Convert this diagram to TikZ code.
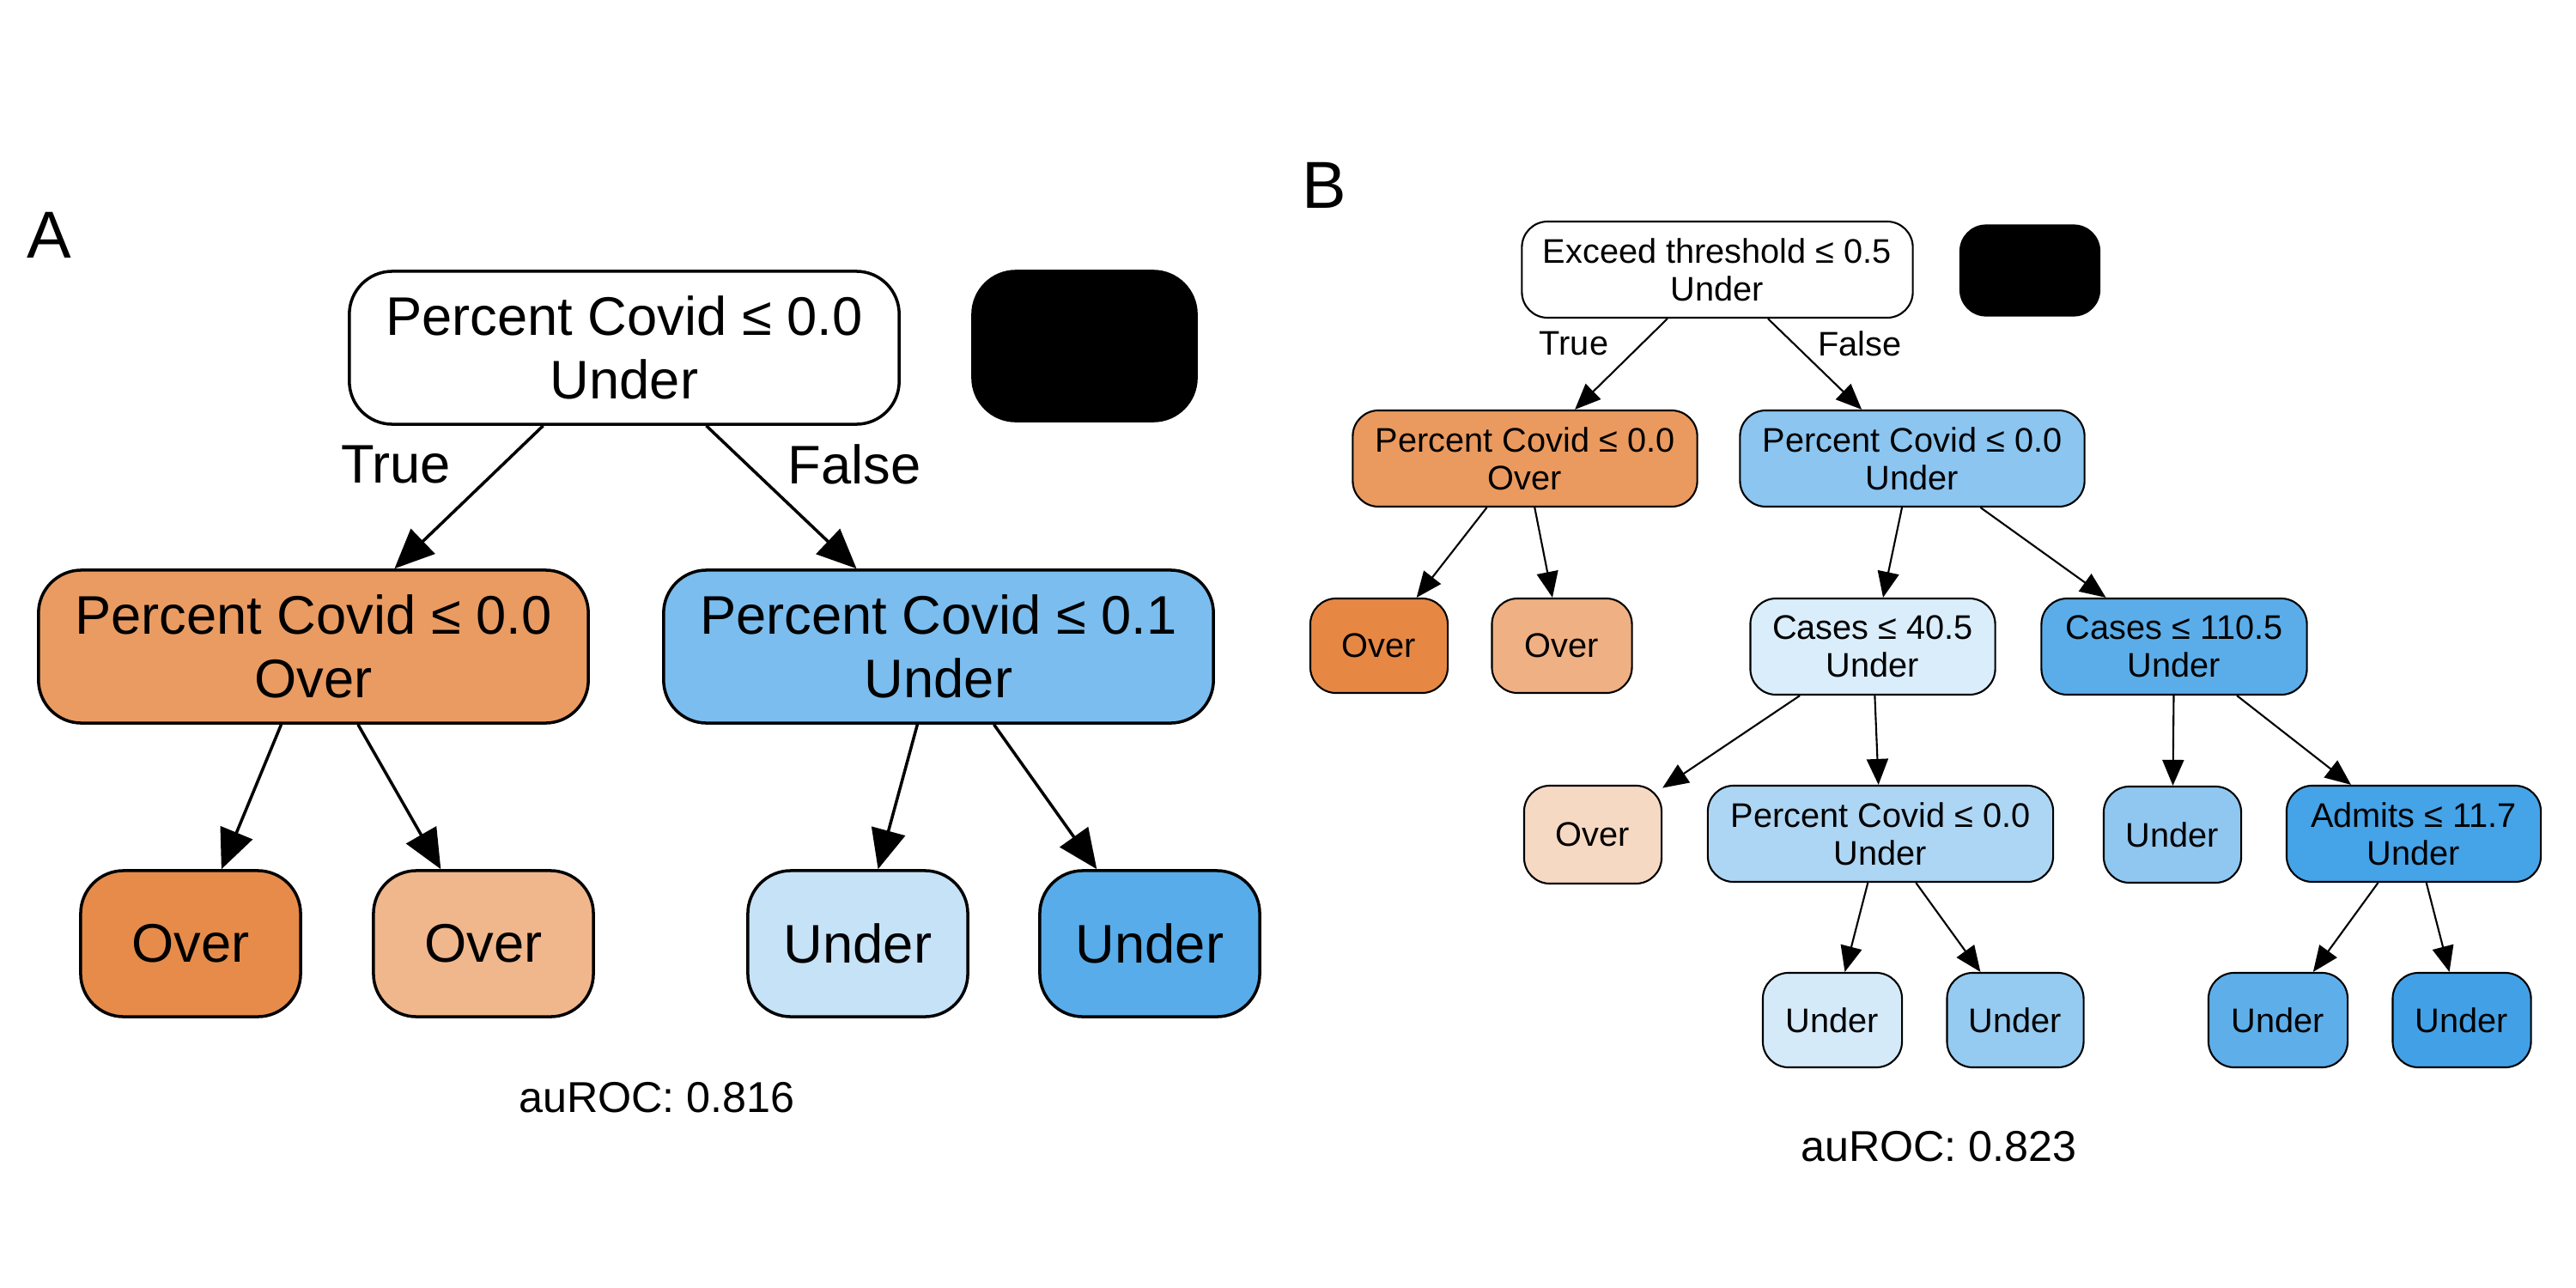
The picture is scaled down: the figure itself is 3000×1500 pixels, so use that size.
\documentclass[tikz,border=0pt]{standalone}
\usepackage{fontspec}
\setmainfont{Liberation Sans}
\usetikzlibrary{arrows.meta}
\definecolor{orA}{HTML}{EA9B62}
\definecolor{blA}{HTML}{7BBDEE}
\definecolor{orAa}{HTML}{E68B4A}
\definecolor{orAb}{HTML}{F0B68C}
\definecolor{blAa}{HTML}{C5E2F7}
\definecolor{blAb}{HTML}{58ACE9}
\definecolor{orB}{HTML}{EA9A5F}
\definecolor{blB}{HTML}{8BC5F0}
\definecolor{orBa}{HTML}{E68844}
\definecolor{orBb}{HTML}{EFB083}
\definecolor{orBc}{HTML}{F6D9C3}
\definecolor{blBa}{HTML}{DAEDFA}
\definecolor{blBb}{HTML}{5BADE9}
\definecolor{blBc}{HTML}{ADD6F4}
\definecolor{blBd}{HTML}{8FC7F0}
\definecolor{blBe}{HTML}{45A3E7}
\definecolor{blBf}{HTML}{D4EAF9}
\definecolor{blBg}{HTML}{95CAF1}
\definecolor{blBh}{HTML}{5EAEE9}
\definecolor{blBi}{HTML}{42A1E6}

\begin{document}
\begin{tikzpicture}[x=0.01cm, y=-0.01cm,
      box/.style={draw, rounded corners=5mm, line width=1pt, align=center,
                  inner sep=0pt, minimum height=1.78cm, minimum width=6.4cm,
                  font=\fontsize{18}{21}\selectfont},
      leaf/.style={box, minimum width=2.56cm, minimum height=1.70cm},
      sbox/.style={draw, rounded corners=3mm, line width=0.6pt, align=center,
                   inner sep=0pt, minimum height=1.12cm,
                   font=\fontsize{11.3}{12.6}\selectfont},
      sleaf/.style={sbox, minimum width=1.6cm, minimum height=1.1cm},
      arr/.style={-{Triangle[length=4.6mm, width=4mm]}, line width=1pt},
      sarr/.style={-{Triangle[length=3mm, width=2.5mm]}, line width=0.6pt},
      tag/.style={font=\fontsize{22}{26}\selectfont},
      lbl/.style={font=\fontsize{18}{21}\selectfont},
      slbl/.style={font=\fontsize{11.3}{13}\selectfont},
      auc/.style={font=\fontsize{14.3}{17}\selectfont}]
    \useasboundingbox (0,0) rectangle (3000,1500);
    % panel A
    \node[tag] (tagA) at (57,274) {A};
    \node[box] (rootA) at (727,405) {Percent Covid ≤ 0.0\\Under};
    \node[box, fill=black, minimum width=2.6cm, minimum height=1.74cm] (keyA) at (1263,403) {};
    \node[box, fill=orA] (overA) at (365,753) {Percent Covid ≤ 0.0\\Over};
    \node[box, fill=blA] (underA) at (1093,753) {Percent Covid ≤ 0.1\\Under};
    \node[leaf, fill=orAa] (overA1) at (222,1099) {Over};
    \node[leaf, fill=orAb] (overA2) at (563,1099) {Over};
    \node[leaf, fill=blAa] (underA1) at (999,1099) {Under};
    \node[leaf, fill=blAb] (underA2) at (1339,1099) {Under};
    \node[lbl] (trueA) at (461,541) {True};
    \node[lbl] (falseA) at (995,541) {False};
    \node[auc] (aucA) at (765,1278) {auROC: 0.816};
    \draw[arr] (rootA) -- (overA);
    \draw[arr] (rootA) -- (underA);
    \draw[arr] (overA) -- (overA1);
    \draw[arr] (overA) -- (overA2);
    \draw[arr] (underA) -- (underA1);
    \draw[arr] (underA) -- (underA2);
    % panel B
    \node[tag] (tagB) at (1542,216) {B};
    \node[sbox, minimum width=4.55cm] (rootB) at (2000,314) {Exceed threshold ≤ 0.5\\Under};
    \node[sbox, fill=black, minimum width=1.62cm, minimum height=1.05cm] (keyB) at (2364,315) {};
    \node[sbox, fill=orB, minimum width=4.01cm] (overB) at (1776,534) {Percent Covid ≤ 0.0\\Over};
    \node[sbox, fill=blB, minimum width=4.01cm] (underB) at (2227,534) {Percent Covid ≤ 0.0\\Under};
    \node[sleaf, fill=orBa] (overB1) at (1606,752) {Over};
    \node[sleaf, fill=orBb, minimum width=1.63cm] (overB2) at (1819,752) {Over};
    \node[sbox, fill=blBa, minimum width=2.85cm] (casesB) at (2181,753) {Cases ≤ 40.5\\Under};
    \node[sbox, fill=blBb, minimum width=3.09cm] (casesC) at (2532,753) {Cases ≤ 110.5\\Under};
    \node[sleaf, fill=orBc, minimum height=1.14cm] (overB3) at (1855,972) {Over};
    \node[sbox, fill=blBc, minimum width=4.02cm, minimum height=1.12cm] (pctB) at (2190,971) {Percent Covid ≤ 0.0\\Under};
    \node[sleaf, fill=blBd, minimum width=1.6cm, minimum height=1.12cm] (underB1) at (2530,972) {Under};
    \node[sbox, fill=blBe, minimum width=2.96cm, minimum height=1.12cm] (admitsB) at (2811,971) {Admits ≤ 11.7\\Under};
    \node[sleaf, fill=blBf, minimum width=1.62cm] (underB2) at (2134,1188) {Under};
    \node[sleaf, fill=blBg, minimum width=1.59cm] (underB3) at (2347,1188) {Under};
    \node[sleaf, fill=blBh, minimum width=1.62cm] (underB4) at (2653,1188) {Under};
    \node[sleaf, fill=blBi, minimum width=1.61cm] (underB5) at (2867,1188) {Under};
    \node[slbl] (trueB) at (1833,400) {True};
    \node[slbl] (falseB) at (2166,400) {False};
    \node[auc] (aucB) at (2258,1335) {auROC: 0.823};
    \draw[sarr] (rootB) -- (overB);
    \draw[sarr] (rootB) -- (underB);
    \draw[sarr] (overB) -- (overB1);
    \draw[sarr] (overB) -- (overB2);
    \draw[sarr] (underB) -- (casesB);
    \draw[sarr] (underB) -- (casesC);
    \draw[sarr] (casesB) -- (overB3);
    \draw[sarr] (casesB) -- (pctB);
    \draw[sarr] (casesC) -- (underB1);
    \draw[sarr] (casesC) -- (admitsB);
    \draw[sarr] (pctB) -- (underB2);
    \draw[sarr] (pctB) -- (underB3);
    \draw[sarr] (admitsB) -- (underB4);
    \draw[sarr] (admitsB) -- (underB5);
  \end{tikzpicture}
\end{document}
